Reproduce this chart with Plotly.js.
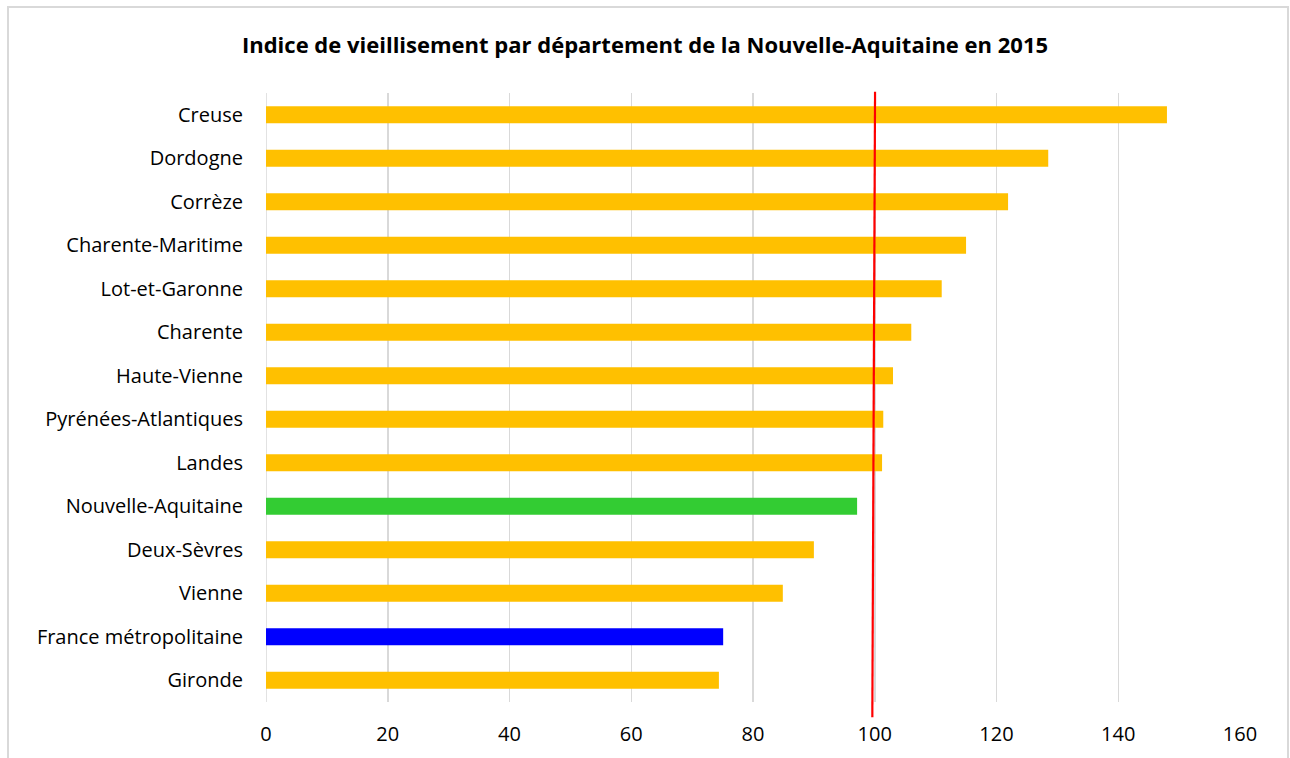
<!DOCTYPE html>
<html>
<head>
<meta charset="utf-8">
<script src="https://cdn.plot.ly/plotly-3.0.1.min.js"></script>
<style>
  html, body { margin: 0; padding: 0; background: #fff; overflow: hidden; }
  #chart { width: 1290px; height: 758px; }
  #frame { position: absolute; left: 7px; top: 6px; width: 1278px; height: 800px;
           border: 2px solid #d9d9d9; pointer-events: none; }
</style>
</head>
<body>
<div id="chart"></div>
<div id="frame"></div>
<script>
const departements = [
  "Creuse", "Dordogne", "Corrèze", "Charente-Maritime", "Lot-et-Garonne",
  "Charente", "Haute-Vienne", "Pyrénées-Atlantiques", "Landes",
  "Nouvelle-Aquitaine", "Deux-Sèvres", "Vienne", "France métropolitaine", "Gironde"
];
const indices = [148.0, 128.5, 121.9, 115.0, 111.0, 106.0, 103.0, 101.4, 101.2, 97.1, 90.0, 84.9, 75.1, 74.4];
const barColors = [
  "#FFC000", "#FFC000", "#FFC000", "#FFC000", "#FFC000",
  "#FFC000", "#FFC000", "#FFC000", "#FFC000",
  "#33CC33", "#FFC000", "#FFC000", "#0000FF", "#FFC000"
];
const xTicks = [0, 20, 40, 60, 80, 100, 120, 140, 160];
const refLineX = [100.05, 99.6]; // top, bottom of reference line

const font = "'Open Sans', 'Noto Sans', sans-serif";

Plotly.newPlot("chart", [{
  type: "bar",
  orientation: "h",
  y: departements,
  x: indices,
  marker: { color: barColors },
  width: 0.39,
  hoverinfo: "x+y"
}], {
  width: 1290, height: 758,
  paper_bgcolor: "#fff", plot_bgcolor: "#fff",
  margin: { l: 266, r: 50, t: 93, b: 56, pad: 0 },
  title: {
    text: "<b>Indice de vieillisement par département de la Nouvelle-Aquitaine en 2015</b>",
    font: { family: font, size: 22, color: "#000" },
    x: 0.5, xanchor: "center", xref: "container",
    y: 0.94, yanchor: "middle", yref: "container"
  },
  xaxis: {
    range: [0, 160], tickvals: xTicks, ticktext: xTicks.map(String),
    showgrid: true, gridcolor: "#d9d9d9", gridwidth: 1.5,
    zeroline: false, showline: false, ticks: "",
    tickfont: { family: font, size: 20, color: "#000" },
    ticklabelstandoff: 18, fixedrange: true
  },
  yaxis: {
    type: "category", autorange: "reversed",
    showgrid: false, zeroline: false, showline: false, ticks: "",
    tickfont: { family: font, size: 20, color: "#000" },
    ticklabelstandoff: 22, fixedrange: true
  },
  shapes: [
    { type: "line", xref: "x", yref: "paper", x0: 0, x1: 0, y0: 0, y1: 1,
      line: { color: "#d9d9d9", width: 1.5 }, layer: "below" },
    { type: "line", xref: "x", yref: "paper", x0: refLineX[0], x1: refLineX[1], y0: 1.002, y1: -0.025,
      line: { color: "#FF0000", width: 2.2 } }
  ],
  showlegend: false
}, { displayModeBar: false, staticPlot: true });
</script>
</body>
</html>
